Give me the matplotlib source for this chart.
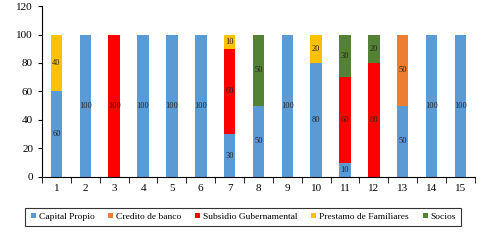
import numpy as np
import matplotlib.pyplot as plt

# Datos por empresa (1..15), en porcentaje
empresas = [str(i) for i in range(1, 16)]
capital_propio = [60, 100, 0, 100, 100, 100, 30, 50, 100, 80, 10, 0, 50, 100, 100]
credito_banco = [0, 0, 0, 0, 0, 0, 0, 0, 0, 0, 0, 0, 50, 0, 0]
subsidio = [0, 0, 100, 0, 0, 0, 60, 0, 0, 0, 60, 80, 0, 0, 0]
prestamo_fam = [40, 0, 0, 0, 0, 0, 10, 0, 0, 20, 0, 0, 0, 0, 0]
socios = [0, 0, 0, 0, 0, 0, 0, 50, 0, 0, 30, 20, 0, 0, 0]

series = [
    ("Capital Propio", capital_propio, "#5B9BD5"),
    ("Credito de banco", credito_banco, "#ED7D31"),
    ("Subsidio Gubernamental", subsidio, "#FF0000"),
    ("Prestamo de Familiares", prestamo_fam, "#FFC000"),
    ("Socios", socios, "#548235"),
]

plt.rcParams['font.family'] = ['Liberation Serif', 'DejaVu Serif']

fig = plt.figure(figsize=(4.84, 2.41), dpi=100)
ax = fig.add_axes([0.087, 0.266, 0.894, 0.709])

x = np.arange(1, 16)
bottom = np.zeros(15)
for nombre, vals, color in series:
    vals = np.array(vals, dtype=float)
    bars = ax.bar(x, vals, 0.4, bottom=bottom, color=color, label=nombre)
    labels = [f"{int(v)}" if v > 0 else "" for v in vals]
    ax.bar_label(bars, labels=labels, label_type='center', fontsize=6, color='#222222')
    bottom += vals

ax.set_xlim(0.5, 15.5)
ax.set_ylim(0, 120)
ax.set_yticks(np.arange(0, 121, 20))
ax.set_xticks(x)
ax.set_xticklabels(empresas)
ax.set_xticks(np.arange(0.5, 15.6, 1), minor=True)
ax.tick_params(axis='x', which='major', length=0, labelsize=8, pad=5)
ax.tick_params(axis='x', which='minor', length=4, direction='out')
ax.tick_params(axis='y', labelsize=8, length=3, direction='out')
ax.spines['top'].set_visible(False)
ax.spines['right'].set_visible(False)

leg = fig.legend(loc='center', bbox_to_anchor=(0.503, 0.1), ncol=5, fontsize=6.8,
                 frameon=True, fancybox=False, edgecolor='black',
                 handlelength=0.55, handleheight=0.55, handletextpad=0.3,
                 columnspacing=1.45, borderpad=0.55)
leg.get_frame().set_linewidth(0.8)

fig.savefig("out.png", dpi=100)
